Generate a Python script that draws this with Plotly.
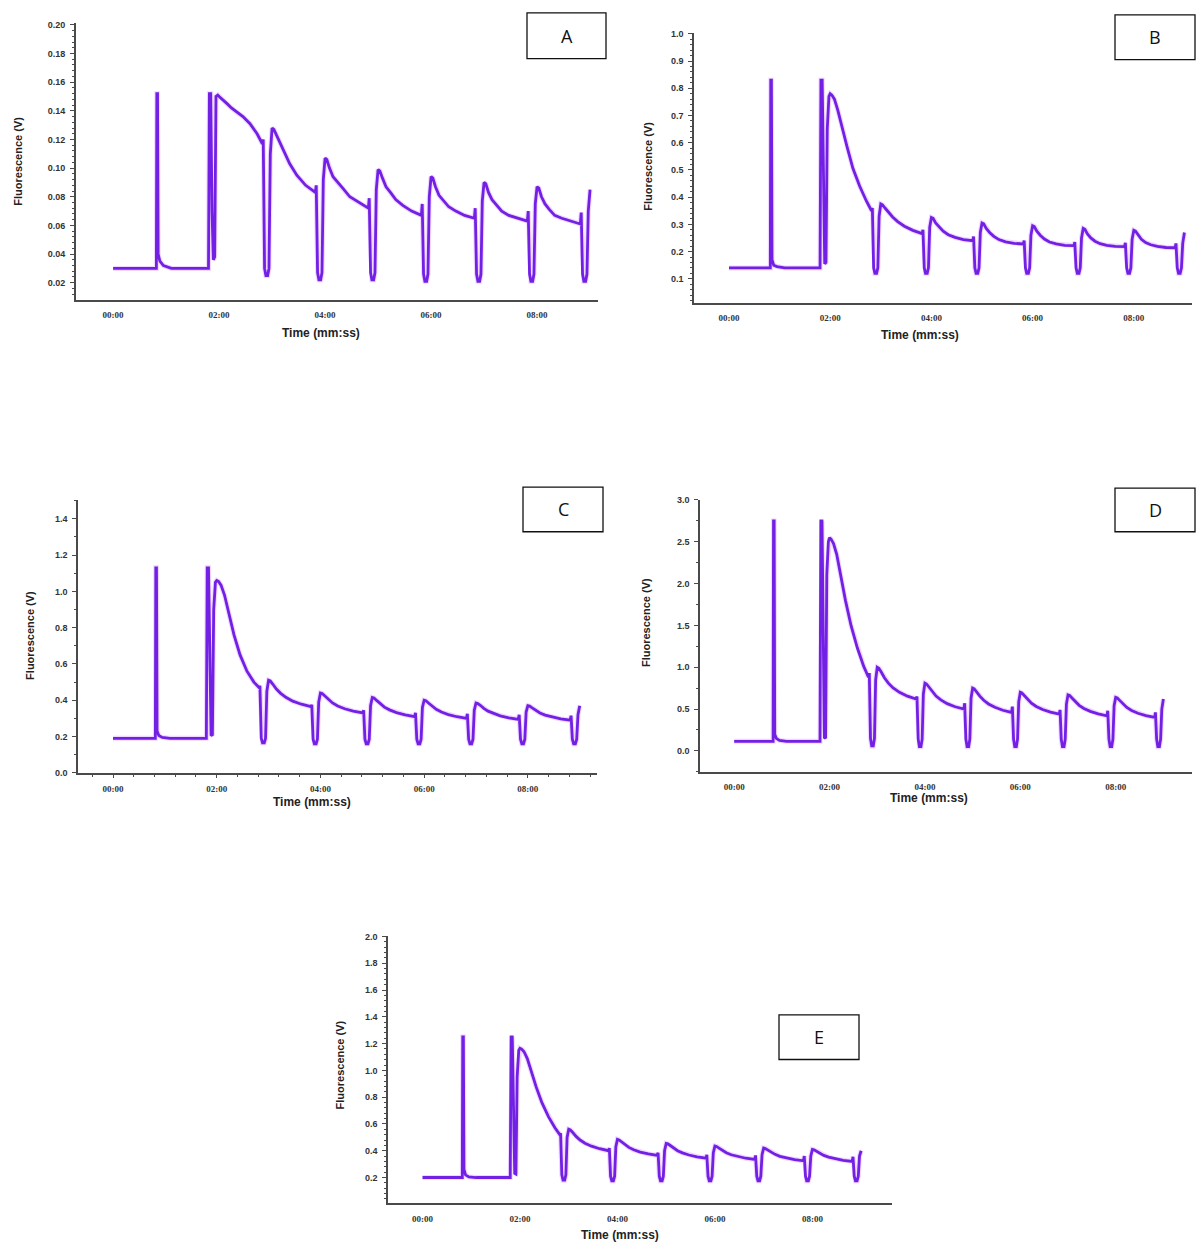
import plotly.graph_objects as go

# ---------------- data ----------------
TIME_S = [0, 49, 49.5, 50.3, 51, 53, 57, 66,
          108, 109, 110.5, 112, 113.5, 115, 116.5, 118.5, 120,
          122, 125, 129, 134, 140, 147, 155, 163,
          169, 170, 171.5, 173, 175, 176.5, 178, 180, 182, 185, 189, 194, 200, 208, 218,
          229, 230, 231.5, 233, 235, 236.5, 238, 240, 242, 245, 249, 254, 260, 268, 278,
          289, 290, 291.5, 293, 295, 296.5, 298, 300, 302, 305, 309, 314, 320, 328, 338,
          349, 350, 351.5, 353, 355, 356.5, 358, 360, 362, 365, 369, 374, 380, 388, 398,
          409, 410, 411.5, 413, 415, 416.5, 418, 420, 422, 425, 429, 434, 440, 448, 458,
          469, 470, 471.5, 473, 475, 476.5, 478, 480, 482, 485, 489, 494, 500, 508, 518,
          529, 530, 531.5, 533, 535, 536.5, 538, 540]

FLUO_A = [0.030, 0.030, 0.152, 0.152, 0.040, 0.035, 0.032, 0.030,
          0.030, 0.152, 0.152, 0.070, 0.036, 0.038, 0.150, 0.151, 0.150,
          0.149, 0.147, 0.145, 0.142, 0.139, 0.136, 0.131, 0.124,
          0.117, 0.120, 0.030, 0.025, 0.025, 0.030, 0.110, 0.128, 0.127, 0.123, 0.117, 0.110, 0.103, 0.095, 0.088,
          0.083, 0.088, 0.027, 0.022, 0.022, 0.027, 0.092, 0.107, 0.106, 0.100, 0.094, 0.090, 0.086, 0.080, 0.076,
          0.072, 0.079, 0.027, 0.022, 0.022, 0.027, 0.085, 0.099, 0.098, 0.093, 0.087, 0.083, 0.078, 0.074, 0.070,
          0.067, 0.075, 0.026, 0.021, 0.021, 0.026, 0.080, 0.094, 0.093, 0.087, 0.081, 0.077, 0.073, 0.070, 0.067,
          0.065, 0.072, 0.026, 0.021, 0.021, 0.026, 0.077, 0.090, 0.089, 0.083, 0.078, 0.074, 0.070, 0.067, 0.065,
          0.063, 0.070, 0.026, 0.021, 0.021, 0.026, 0.075, 0.087, 0.086, 0.080, 0.075, 0.071, 0.067, 0.065, 0.063,
          0.061, 0.069, 0.026, 0.021, 0.021, 0.026, 0.070, 0.085]

FLUO_B = [0.14, 0.14, 0.83, 0.83, 0.17, 0.15, 0.145, 0.14,
          0.14, 0.83, 0.83, 0.40, 0.155, 0.16, 0.65, 0.77, 0.78,
          0.775, 0.76, 0.72, 0.655, 0.585, 0.505, 0.44, 0.385,
          0.35, 0.36, 0.14, 0.12, 0.12, 0.14, 0.33, 0.375, 0.372, 0.36, 0.345, 0.327, 0.31, 0.293, 0.278,
          0.266, 0.28, 0.14, 0.12, 0.12, 0.14, 0.29, 0.325, 0.322, 0.305, 0.29, 0.275, 0.262, 0.252, 0.244,
          0.240, 0.255, 0.14, 0.12, 0.12, 0.14, 0.27, 0.305, 0.302, 0.285, 0.27, 0.256, 0.244, 0.236, 0.230,
          0.228, 0.24, 0.14, 0.12, 0.12, 0.14, 0.26, 0.295, 0.292, 0.275, 0.26, 0.246, 0.235, 0.228, 0.223,
          0.222, 0.235, 0.14, 0.12, 0.12, 0.14, 0.25, 0.285, 0.282, 0.265, 0.25, 0.238, 0.229, 0.223, 0.219,
          0.218, 0.232, 0.14, 0.12, 0.12, 0.14, 0.245, 0.278, 0.275, 0.26, 0.245, 0.233, 0.225, 0.219, 0.215,
          0.214, 0.23, 0.14, 0.12, 0.12, 0.14, 0.23, 0.27]

FLUO_C = [0.19, 0.19, 1.13, 1.13, 0.23, 0.205, 0.195, 0.19,
          0.19, 1.13, 1.13, 0.55, 0.21, 0.205, 0.90, 1.05, 1.06,
          1.055, 1.035, 0.98, 0.88, 0.76, 0.65, 0.56, 0.50,
          0.47, 0.48, 0.19, 0.165, 0.165, 0.19, 0.45, 0.51, 0.506, 0.488, 0.462, 0.438, 0.416, 0.395, 0.378,
          0.365, 0.375, 0.185, 0.16, 0.16, 0.185, 0.39, 0.44, 0.437, 0.424, 0.404, 0.385, 0.368, 0.353, 0.34,
          0.33, 0.345, 0.185, 0.16, 0.16, 0.185, 0.37, 0.415, 0.412, 0.399, 0.38, 0.362, 0.347, 0.332, 0.319,
          0.31, 0.33, 0.185, 0.16, 0.16, 0.185, 0.36, 0.40, 0.397, 0.385, 0.367, 0.35, 0.335, 0.321, 0.309,
          0.30, 0.325, 0.185, 0.16, 0.16, 0.185, 0.345, 0.385, 0.382, 0.372, 0.355, 0.34, 0.327, 0.314, 0.303,
          0.295, 0.32, 0.185, 0.16, 0.16, 0.185, 0.335, 0.37, 0.368, 0.358, 0.344, 0.33, 0.318, 0.307, 0.297,
          0.29, 0.315, 0.185, 0.16, 0.16, 0.185, 0.32, 0.37]

FLUO_D = [0.115, 0.115, 2.75, 2.75, 0.20, 0.15, 0.125, 0.115,
          0.115, 2.75, 2.75, 1.30, 0.16, 0.15, 2.10, 2.50, 2.55,
          2.53, 2.48, 2.35, 2.08, 1.80, 1.50, 1.23, 1.01,
          0.88, 0.93, 0.15, 0.06, 0.06, 0.15, 0.85, 1.0, 0.989, 0.943, 0.875, 0.81, 0.753, 0.70, 0.654,
          0.62, 0.65, 0.14, 0.05, 0.05, 0.14, 0.68, 0.81, 0.80, 0.763, 0.708, 0.655, 0.609, 0.565, 0.528,
          0.50, 0.57, 0.14, 0.05, 0.05, 0.14, 0.63, 0.75, 0.741, 0.706, 0.654, 0.605, 0.561, 0.521, 0.486,
          0.46, 0.53, 0.14, 0.05, 0.05, 0.14, 0.59, 0.70, 0.692, 0.661, 0.614, 0.57, 0.531, 0.495, 0.463,
          0.44, 0.49, 0.14, 0.05, 0.05, 0.14, 0.56, 0.67, 0.663, 0.633, 0.588, 0.545, 0.508, 0.473, 0.443,
          0.42, 0.48, 0.14, 0.05, 0.05, 0.14, 0.54, 0.64, 0.633, 0.604, 0.561, 0.52, 0.484, 0.45, 0.422,
          0.40, 0.46, 0.14, 0.05, 0.05, 0.14, 0.50, 0.62]

FLUO_E = [0.20, 0.20, 1.25, 1.25, 0.26, 0.22, 0.205, 0.20,
          0.20, 1.25, 1.25, 0.60, 0.23, 0.225, 0.95, 1.15, 1.165,
          1.159, 1.139, 1.088, 0.984, 0.875, 0.759, 0.655, 0.572,
          0.52, 0.53, 0.22, 0.18, 0.18, 0.22, 0.50, 0.56, 0.555, 0.536, 0.507, 0.48, 0.456, 0.434, 0.415,
          0.40, 0.42, 0.21, 0.175, 0.175, 0.21, 0.43, 0.485, 0.481, 0.467, 0.445, 0.425, 0.407, 0.39, 0.376,
          0.365, 0.385, 0.21, 0.175, 0.175, 0.21, 0.40, 0.455, 0.452, 0.439, 0.419, 0.40, 0.384, 0.368, 0.355,
          0.345, 0.37, 0.21, 0.175, 0.175, 0.21, 0.385, 0.435, 0.432, 0.42, 0.402, 0.385, 0.37, 0.356, 0.344,
          0.335, 0.365, 0.21, 0.175, 0.175, 0.21, 0.37, 0.42, 0.417, 0.406, 0.389, 0.373, 0.358, 0.345, 0.334,
          0.325, 0.36, 0.21, 0.175, 0.175, 0.21, 0.36, 0.41, 0.407, 0.397, 0.38, 0.365, 0.352, 0.339, 0.328,
          0.32, 0.355, 0.21, 0.175, 0.175, 0.21, 0.36, 0.40]

X_TICK_VALS = [0, 120, 240, 360, 480]
X_TICK_TEXT = ["00:00", "02:00", "04:00", "06:00", "08:00"]

Y_TICKS_A = [0.02, 0.04, 0.06, 0.08, 0.10, 0.12, 0.14, 0.16, 0.18, 0.20]
Y_TEXT_A = ["0.02", "0.04", "0.06", "0.08", "0.10", "0.12", "0.14", "0.16", "0.18", "0.20"]
Y_TICKS_B = [0.1, 0.2, 0.3, 0.4, 0.5, 0.6, 0.7, 0.8, 0.9, 1.0]
Y_TEXT_B = ["0.1", "0.2", "0.3", "0.4", "0.5", "0.6", "0.7", "0.8", "0.9", "1.0"]
Y_TICKS_C = [0.0, 0.2, 0.4, 0.6, 0.8, 1.0, 1.2, 1.4]
Y_TEXT_C = ["0.0", "0.2", "0.4", "0.6", "0.8", "1.0", "1.2", "1.4"]
Y_TICKS_D = [0.0, 0.5, 1.0, 1.5, 2.0, 2.5, 3.0]
Y_TEXT_D = ["0.0", "0.5", "1.0", "1.5", "2.0", "2.5", "3.0"]
Y_TICKS_E = [0.2, 0.4, 0.6, 0.8, 1.0, 1.2, 1.4, 1.6, 1.8, 2.0]
Y_TEXT_E = ["0.2", "0.4", "0.6", "0.8", "1.0", "1.2", "1.4", "1.6", "1.8", "2.0"]

PANEL_LABELS = ["A", "B", "C", "D", "E"]
X_TITLE = "Time (mm:ss)"
Y_TITLE = "Fluorescence (V)"

for arr in (FLUO_A, FLUO_B, FLUO_C, FLUO_D, FLUO_E):
    assert len(arr) == len(TIME_S), (len(arr), len(TIME_S))

# ---------------- layout (pixel geometry) ----------------
W, H = 1198, 1247
LINE = "#7120e4"
HALO = "rgba(200,110,255,0.28)"
AXIS = "#4a4a4a"


def fx(p):
    return p / W


def fy(p):
    return 1 - p / H


panels = [
    dict(vals=FLUO_A, yt=Y_TICKS_A, ytt=Y_TEXT_A, box=(76, 598, 18, 297), xr=[-42, 549],
         yr=[0.0082, 0.2014], ymin=0.004, xminor=None,
         ytitle=(18, 158), xtitle=(321, 331), lab=(527, 606, 8, 54)),
    dict(vals=FLUO_B, yt=Y_TICKS_B, ytt=Y_TEXT_B, box=(694, 1192, 28, 300), xr=[-41.5, 549],
         yr=[0.0125, 1.004], ymin=0.02, xminor=None,
         ytitle=(648, 162), xtitle=(920, 333), lab=(1115, 1195, 10, 55)),
    dict(vals=FLUO_C, yt=Y_TICKS_C, ytt=Y_TEXT_C, box=(78, 597, 499, 774), xr=[-40.5, 560],
         yr=[0.0, 1.504], ymin=0.1, xminor=24,
         ytitle=(30, 636), xtitle=(312, 803), lab=(523, 603, 486, 531)),
    dict(vals=FLUO_D, yt=Y_TICKS_D, ytt=Y_TEXT_D, box=(700, 1192, 499, 773), xr=[-43, 576],
         yr=[-0.25, 3.0], ymin=0.25, xminor=None,
         ytitle=(646, 623), xtitle=(929, 799), lab=(1115, 1195, 487, 531)),
    dict(vals=FLUO_E, yt=Y_TICKS_E, ytt=Y_TEXT_E, box=(388, 892, 939, 1208), xr=[-42.5, 578],
         yr=[0.0074, 2.0], ymin=0.04, xminor=None,
         ytitle=(340, 1068), xtitle=(620, 1240), lab=(779, 859, 1018, 1063)),
]

fig = go.Figure()
layout = dict(width=W, height=H, margin=dict(l=0, r=0, t=0, b=0),
              paper_bgcolor="white", plot_bgcolor="white", showlegend=False)
annotations = []
shapes = []

for i, p in enumerate(panels, start=1):
    xa = "x" if i == 1 else f"x{i}"
    ya = "y" if i == 1 else f"y{i}"
    xkey = "xaxis" if i == 1 else f"xaxis{i}"
    ykey = "yaxis" if i == 1 else f"yaxis{i}"
    x0, x1, y0, y1 = p["box"]

    fig.add_trace(go.Scatter(x=TIME_S, y=p["vals"], xaxis=xa, yaxis=ya, mode="lines",
                             line=dict(color=HALO, width=5), hoverinfo="skip"))
    fig.add_trace(go.Scatter(x=TIME_S, y=p["vals"], xaxis=xa, yaxis=ya, mode="lines",
                             line=dict(color=LINE, width=2.8)))

    xaxis = dict(domain=[fx(x0), fx(x1)], range=p["xr"], anchor=ya,
                 showline=True, linecolor=AXIS, linewidth=1.6, showgrid=False, zeroline=False,
                 tickvals=X_TICK_VALS, ticktext=X_TICK_TEXT,
                 tickfont=dict(family="Liberation Serif", size=9, color="#333333",
                               weight="bold"),
                 ticks="", ticklabelstandoff=6)
    if p["xminor"]:
        xaxis.update(ticks="outside", ticklen=3, tickwidth=1, tickcolor=AXIS,
                     ticklabelstandoff=4,
                     minor=dict(dtick=p["xminor"], tick0=0, ticks="outside", ticklen=2,
                                tickcolor=AXIS, tickwidth=1))
    layout[xkey] = xaxis

    layout[ykey] = dict(domain=[fy(y1), fy(y0)], range=p["yr"], anchor=xa,
                        showline=True, linecolor=AXIS, linewidth=1.6, showgrid=False,
                        zeroline=False, tickvals=p["yt"], ticktext=p["ytt"],
                        tickfont=dict(family="Liberation Sans", size=9, color="#333333",
                                      weight="bold"),
                        ticks="outside", ticklen=4, tickwidth=1, tickcolor=AXIS,
                        ticklabelstandoff=3,
                        minor=dict(dtick=p["ymin"], tick0=0, ticks="outside", ticklen=2,
                                   tickcolor=AXIS, tickwidth=1))

    tx, ty = p["ytitle"]
    annotations.append(dict(text=Y_TITLE, x=fx(tx), y=fy(ty), xref="paper", yref="paper",
                            xanchor="center", yanchor="middle", showarrow=False, textangle=-90,
                            font=dict(family="Liberation Sans", size=11, color="#222222",
                                      weight="bold")))
    tx, ty = p["xtitle"]
    annotations.append(dict(text=X_TITLE, x=fx(tx), y=fy(ty), xref="paper", yref="paper",
                            xanchor="center", yanchor="middle", showarrow=False,
                            font=dict(family="Liberation Sans", size=12, color="#222222",
                                      weight="bold")))
    lx0, lx1, ly0, ly1 = p["lab"]
    shapes.append(dict(type="rect", xref="paper", yref="paper",
                       x0=fx(lx0), x1=fx(lx1), y0=fy(ly1), y1=fy(ly0),
                       line=dict(color="#111111", width=1.3), fillcolor="white"))
    annotations.append(dict(text=PANEL_LABELS[i - 1], x=fx((lx0 + lx1) / 2),
                            y=fy((ly0 + ly1) / 2), xref="paper", yref="paper",
                            xanchor="center", yanchor="middle", showarrow=False,
                            font=dict(family="Open Sans", size=18, color="#111111")))

layout["annotations"] = annotations
layout["shapes"] = shapes
fig.update_layout(**layout)
fig.write_html("out.html")
